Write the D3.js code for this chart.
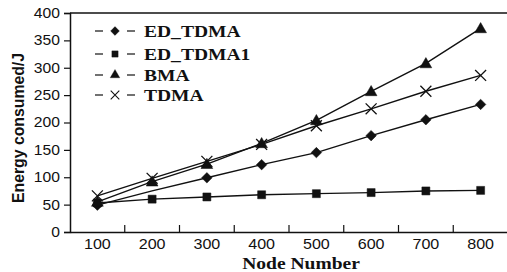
<!DOCTYPE html>
<html><head><meta charset="utf-8">
<script src="https://cdn.jsdelivr.net/npm/d3@7"></script>
<style>body{margin:0;background:#fff}svg{display:block}</style>
</head><body><svg id="c" width="507" height="272"></svg>
<script>
const nodes = [100,200,300,400,500,600,700,800];
const edTdma  = [49, 75, 99, 123, 145, 176, 205, 233];
const edTdma1 = [53, 60, 64, 68, 70, 72, 75, 76];
const bma     = [55, 92, 124, 162, 204, 257, 308, 372];
const tdma    = [66, 98, 129, 160, 194, 225, 257, 286];
const yTicks  = [0,50,100,150,200,250,300,350,400];
const seriesNames = ["ED_TDMA","ED_TDMA1","BMA","TDMA"];
const seriesData = [edTdma, edTdma1, bma, tdma];
const markers = ["diamond","square","triangle","cross"];
// node counts where the original figure shows no marker for a series
const noMarker = [[200], [], [], []];

const svg = d3.select("#c");
const L=70, R=508, T=13, B=232;
const x = d3.scaleBand().domain(nodes).range([L,R]).padding(0);
const y = d3.scaleLinear().domain([0,400]).range([B,T]);
const sans = "Liberation Sans, Arial, sans-serif";
const serif = "Liberation Serif, Times New Roman, serif";

svg.append("line").attr("x1",L).attr("x2",507).attr("y1",T).attr("y2",T).attr("stroke","#111").attr("stroke-width",1.3);
const ya = svg.append("g").attr("transform",`translate(${L},0)`)
  .call(d3.axisLeft(y).tickValues(yTicks).tickSize(6).tickPadding(3));
ya.select(".domain").attr("stroke","#111").attr("stroke-width",1.5);
ya.selectAll(".tick line").attr("stroke","#111").attr("stroke-width",1.2);
ya.selectAll("text").attr("font-family",sans).attr("font-size",14).attr("fill","#111")
  .attr("transform","scale(1.12,1)");
const xa = svg.append("g").attr("transform",`translate(0,${B})`)
  .call(d3.axisBottom(x).tickSize(0).tickPadding(7).tickSizeOuter(0));
xa.select(".domain").attr("stroke","#111").attr("stroke-width",1.5);
xa.selectAll("text").attr("font-family",sans).attr("font-size",14).attr("fill","#111")
  .attr("transform","scale(1.15,1)");
svg.append("g").selectAll("line").data(nodes.slice(1)).join("line")
  .attr("x1",d=>x(d)).attr("x2",d=>x(d)).attr("y1",B).attr("y2",B-7)
  .attr("stroke","#111").attr("stroke-width",1.2);

svg.append("text").attr("transform",`translate(24,128) rotate(-90)`)
  .attr("text-anchor","middle").attr("font-family",sans)
  .attr("font-weight","bold").attr("font-size",16).attr("fill","#111")
  .attr("textLength",150).attr("lengthAdjust","spacingAndGlyphs").text("Energy consumed/J");
svg.append("text").attr("transform","translate(301,269) scale(1.15,1)").attr("text-anchor","middle")
  .attr("font-family",serif).attr("font-weight","bold").attr("font-size",17).attr("fill","#111").text("Node Number");

const types = {diamond:d3.symbolDiamond2,square:d3.symbolSquare,triangle:d3.symbolTriangle,cross:d3.symbolX};
const sizes = {diamond:70,square:64,triangle:60,cross:80};
const cx = d => x(d) + x.bandwidth()/2;
const line = d3.line().x((d,i)=>cx(nodes[i])).y(d=>y(d));
seriesData.forEach((s,k)=>{
  svg.append("path").datum(s).attr("d",line).attr("fill","none").attr("stroke","#111").attr("stroke-width",1.4);
  const pts = s.map((v,i)=>({n:nodes[i],v})).filter(p=>!noMarker[k].includes(p.n));
  svg.append("g").selectAll("path").data(pts).join("path")
    .attr("transform",p=>`translate(${cx(p.n)},${y(p.v)})${markers[k]==="triangle"?" translate(0,1)":""}`)
    .attr("d",d3.symbol().type(types[markers[k]]).size(sizes[markers[k]])())
    .attr("fill",markers[k]==="cross"?"none":"#111")
    .attr("stroke","#111").attr("stroke-width",markers[k]==="cross"?1.3:0.5);
});

const legY = [31,54,75,95];
seriesNames.forEach((n,k)=>{
  const g = svg.append("g").attr("transform",`translate(0,${legY[k]})`);
  g.append("line").attr("x1",95).attr("x2",103).attr("y1",0).attr("y2",0).attr("stroke","#111").attr("stroke-width",1.2);
  g.append("line").attr("x1",127).attr("x2",135).attr("y1",0).attr("y2",0).attr("stroke","#111").attr("stroke-width",1.2);
  const size = {diamond:50,square:40,triangle:40,cross:50}[markers[k]];
  g.append("path").attr("transform","translate(115,0)").attr("d",d3.symbol().type(types[markers[k]]).size(size)())
    .attr("fill",markers[k]==="cross"?"none":"#111").attr("stroke","#111").attr("stroke-width",markers[k]==="cross"?1.1:0.3);
  g.append("text").attr("transform","translate(144,6) scale(1.15,1)").attr("font-family",serif).attr("font-weight","bold")
    .attr("font-size",17).attr("fill","#111").text(n);
});
</script></body></html>
